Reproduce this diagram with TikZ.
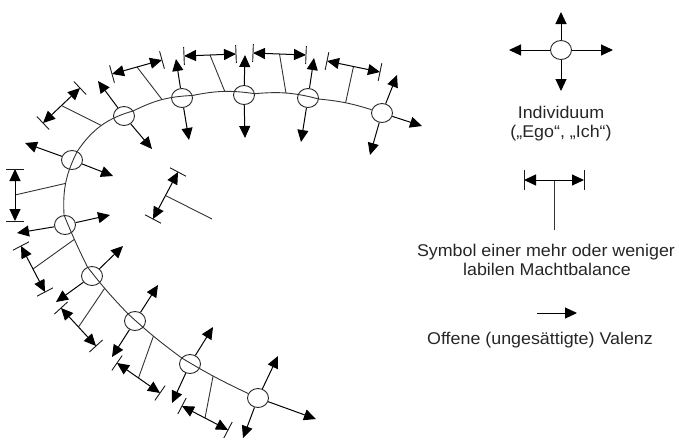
\documentclass[tikz,border=0pt]{standalone}
\usepackage{fontspec}
\setmainfont{Liberation Sans}[FakeStretch=1.05]
\usetikzlibrary{arrows.meta,calc,shapes.geometric}

% balance symbol: stem from #2 to the middle of a double arrow #3 <-> #4 with end bars
\newcommand{\balsym}[4][9pt]{%
  \draw[stem] (#2) -- ($(#3)!0.5!(#4)$);
  \draw[balarrow] (#3) -- (#4);
  \draw[barend] ($(#3)!#1!90:(#4)$) -- ($(#3)!#1!-90:(#4)$);
  \draw[barend] ($(#4)!#1!90:(#3)$) -- ($(#4)!#1!-90:(#3)$);
}

\begin{document}
\begin{tikzpicture}[x=1pt,y=1pt,
  person/.style={ellipse,draw=black!85,line width=0.9pt,fill=white,
    minimum width=21pt,minimum height=19pt,inner sep=0pt},
  chain/.style={draw=black!80,line width=0.9pt},
  valence/.style={draw=black,line width=1pt,-{Triangle[length=12pt,width=11pt]}},
  balarrow/.style={draw=black,line width=1pt,
    {Triangle[length=12pt,width=11pt]}-{Triangle[length=12pt,width=11pt]}},
  stem/.style={draw=black!80,line width=0.9pt},
  barend/.style={draw=black!90,line width=0.9pt},
  legendtext/.style={font=\fontsize{17}{19.5}\selectfont,text=black!85,
    inner sep=0pt,anchor=base}
]
\useasboundingbox (0,-440) rectangle (679,0);

% individuals along the figuration
\node[person] (n1)  at (382,-113) {};
\node[person] (n2)  at (308,-98)  {};
\node[person] (n3)  at (244,-95)  {};
\node[person] (n4)  at (182,-98)  {};
\node[person] (n5)  at (124,-116) {};
\node[person] (n6)  at (72,-160)  {};
\node[person] (n7)  at (65,-225)  {};
\node[person] (n8)  at (92,-276)  {};
\node[person] (n9)  at (135,-321) {};
\node[person] (n10) at (190,-364) {};
\node[person] (n11) at (258,-398) {};

% links between neighbouring individuals
\draw[chain] (n1) to[bend right=6]  coordinate[pos=.5] (m1)  (n2)
                  to[bend right=10] coordinate[pos=.52] (m2) (n3)
                  to[bend right=10] coordinate[pos=.48] (m3) (n4)
                  to[bend right=12] coordinate[pos=.5] (m4)  (n5)
                  to[bend right=20] coordinate[pos=.5] (m5)  (n6)
                  to[bend right=15] coordinate[pos=.52] (m6) (n7)
                  to[bend right=2]  coordinate[pos=.46] (m7) (n8)
                  to[bend right=3]  coordinate[pos=.44] (m8) (n9)
                  to[bend right=3]  coordinate[pos=.49] (m9) (n10)
                  to[bend right=3]  coordinate[pos=.48] (m10) (n11);

% ends of the balance arrows
\coordinate (a1) at (43,-123);   \coordinate (b1) at (80,-88);
\coordinate (a2) at (112,-74);   \coordinate (b2) at (162,-60);
\coordinate (a3) at (184,-56);   \coordinate (b3) at (236,-54);
\coordinate (a4) at (253,-53);   \coordinate (b4) at (306,-55);
\coordinate (a5) at (327,-61);   \coordinate (b5) at (380,-72);
\coordinate (a6) at (15,-169);   \coordinate (b6) at (15,-221);
\coordinate (a7) at (21,-246);   \coordinate (b7) at (45,-292);
\coordinate (a8) at (61,-308);   \coordinate (b8) at (96,-346);
\coordinate (a9) at (117,-363);  \coordinate (b9) at (160,-393);
\coordinate (a10) at (182,-406); \coordinate (b10) at (228,-430);
\coordinate (a11) at (153,-219); \coordinate (b11) at (178,-172);
\coordinate (s11) at (212,-219);

\balsym{m5}{a1}{b1}
\balsym{m4}{a2}{b2}
\balsym{m3}{a3}{b3}
\balsym{m2}{a4}{b4}
\balsym{m1}{a5}{b5}
\balsym{m6}{a6}{b6}
\balsym{m7}{a7}{b7}
\balsym{m8}{a8}{b8}
\balsym{m9}{a9}{b9}
\balsym{m10}{a10}{b10}
\balsym{s11}{a11}{b11}

% open valences
\coordinate (v1a) at (397,-75);  \coordinate (v1b) at (422,-126); \coordinate (v1c) at (370,-155);
\coordinate (v2a) at (314,-58);  \coordinate (v2b) at (301,-142);
\coordinate (v3a) at (245,-55);  \coordinate (v3b) at (245,-138);
\coordinate (v4a) at (176,-59);  \coordinate (v4b) at (189,-140);
\coordinate (v5a) at (98,-81);   \coordinate (v5b) at (152,-149);
\coordinate (v6a) at (25,-143);  \coordinate (v6b) at (113,-176);
\coordinate (v7a) at (110,-215); \coordinate (v7b) at (17,-233);
\coordinate (v8a) at (123,-246); \coordinate (v8b) at (56,-302);
\coordinate (v9a) at (158,-285); \coordinate (v9b) at (112,-357);
\coordinate (v10a) at (213,-327); \coordinate (v10b) at (172,-403);
\coordinate (v11a) at (278,-356); \coordinate (v11b) at (316,-419); \coordinate (v11c) at (243,-438);

\draw[valence] (n1) -- (v1a);  \draw[valence] (n1) -- (v1b);  \draw[valence] (n1) -- (v1c);
\draw[valence] (n2) -- (v2a);  \draw[valence] (n2) -- (v2b);
\draw[valence] (n3) -- (v3a);  \draw[valence] (n3) -- (v3b);
\draw[valence] (n4) -- (v4a);  \draw[valence] (n4) -- (v4b);
\draw[valence] (n5) -- (v5a);  \draw[valence] (n5) -- (v5b);
\draw[valence] (n6) -- (v6a);  \draw[valence] (n6) -- (v6b);
\draw[valence] (n7) -- (v7a);  \draw[valence] (n7) -- (v7b);
\draw[valence] (n8) -- (v8a);  \draw[valence] (n8) -- (v8b);
\draw[valence] (n9) -- (v9a);  \draw[valence] (n9) -- (v9b);
\draw[valence] (n10) -- (v10a); \draw[valence] (n10) -- (v10b);
\draw[valence] (n11) -- (v11a); \draw[valence] (n11) -- (v11b); \draw[valence] (n11) -- (v11c);

% legend: individual
\node[person] (ego) at (561,-50) {};
\coordinate (eu) at (561,-12);  \coordinate (ed) at (561,-91);
\coordinate (el) at (509,-50);  \coordinate (er) at (613,-50);
\draw[valence] (ego) -- (eu);
\draw[valence] (ego) -- (ed);
\draw[valence] (ego) -- (el);
\draw[valence] (ego) -- (er);
\node[legendtext] (t1) at (561,-118) {Individuum};
\node[legendtext] (t2) at (561,-137) {(„Ego“, „Ich“)};

% legend: balance of power
\coordinate (la) at (524,-180); \coordinate (lb) at (584,-180);
\coordinate (ls) at (554,-230);
\balsym[10pt]{ls}{la}{lb}
\node[legendtext] (t3) at (546,-256) {Symbol einer mehr oder weniger};
\node[legendtext] (t4) at (547,-275) {labilen Machtbalance};

% legend: open valence
\coordinate (oa) at (537,-313); \coordinate (ob) at (577,-313);
\draw[valence] (oa) -- (ob);
\node[legendtext] (t5) at (540,-344) {Offene (ungesättigte) Valenz};
\end{tikzpicture}
\end{document}
